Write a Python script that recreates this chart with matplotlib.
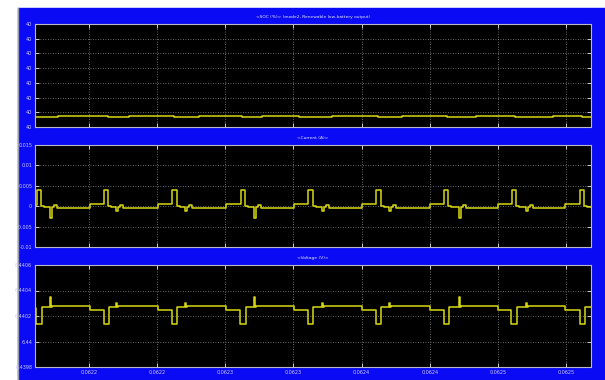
import matplotlib
matplotlib.use("Agg")
import matplotlib.pyplot as plt
import numpy as np
from matplotlib.patches import Rectangle
from matplotlib.lines import Line2D

# time axis: microseconds after 0.0621 s
T0 = 0.0621
XLIM_US = (10.4, 418.3)
XTICKS_US = [50, 100, 150, 200, 250, 300, 350, 400]
XTICK_LABELS = ["0.0622", "0.0622", "0.0623", "0.0623",
                "0.0624", "0.0624", "0.0625", "0.0625"]

# SOC (%) - practically flat, tiny steps
SOC_T = [10.4, 27.3, 64.0, 79.7, 112.4, 130.7, 162.3, 177.0, 204.1,
         228.1, 262.3, 279.5, 312.5, 334.0, 362.6, 390.3, 411.6, 418.3]
SOC_Y = [39.999768, 39.999776, 39.999768, 39.999776, 39.999768, 39.999776,
         39.999768, 39.999776, 39.999768, 39.999776, 39.999768, 39.999776,
         39.999768, 39.999776, 39.999768, 39.999776, 39.999768, 39.999768]
SOC_TICKS = [39.9997, 39.9998, 39.9999, 40.0, 40.0001, 40.0002, 40.0003, 40.0004]
SOC_LABELS = ["40"] * 8

# Current (A)
CUR_T = [10.4, 11.6, 14.8, 17.0, 21.4, 23.1, 24.3, 26.5, 50.9,
         61.0, 64.2, 66.4, 69.8, 71.5, 72.7, 74.9, 100.3,
         111.1, 114.3, 116.5, 120.5, 122.2, 123.4, 125.6, 150.4,
         161.2, 164.4, 166.6, 171.1, 172.8, 174.0, 176.2, 200.5,
         211.0, 214.2, 216.4, 220.8, 222.5, 223.7, 225.9, 250.3,
         260.9, 264.1, 266.3, 270.2, 271.9, 273.1, 275.3, 300.2,
         310.5, 313.7, 315.9, 321.5, 323.2, 324.4, 326.6, 349.8,
         360.2, 363.4, 365.6, 370.7, 372.4, 373.6, 375.8, 399.5,
         410.3, 413.5, 415.7, 418.3]
CUR_Y = [0.0003, 0.0039, 0.0001, -0.0003, -0.0028, -0.0003, 0.0002, -0.0004, 0.0005,
         0.0039, 0.0001, -0.0003, -0.0012, -0.0003, 0.0002, -0.0004, 0.0005,
         0.0039, 0.0001, -0.0003, -0.0012, -0.0003, 0.0002, -0.0004, 0.0005,
         0.0039, 0.0001, -0.0003, -0.0028, -0.0003, 0.0002, -0.0004, 0.0005,
         0.0039, 0.0001, -0.0003, -0.0012, -0.0003, 0.0002, -0.0004, 0.0005,
         0.0039, 0.0001, -0.0003, -0.0012, -0.0003, 0.0002, -0.0004, 0.0005,
         0.0039, 0.0001, -0.0003, -0.0028, -0.0003, 0.0002, -0.0004, 0.0005,
         0.0039, 0.0001, -0.0003, -0.0012, -0.0003, 0.0002, -0.0004, 0.0005,
         0.0039, 0.0001, -0.0003, -0.0003]
CUR_TICKS = [-0.01, -0.005, 0, 0.005, 0.01, 0.015]
CUR_LABELS = ["-0.01", "-0.005", "0", "0.005", "0.01", "0.015"]

# Voltage (V)
VOL_T = [10.4, 11.3, 15.3, 21.4, 22.1, 23.1, 50.9,
         60.7, 64.7, 69.8, 70.5, 71.5, 100.3,
         110.8, 114.8, 120.5, 121.2, 122.2, 150.4,
         160.9, 164.9, 171.1, 171.8, 172.8, 200.5,
         210.7, 214.7, 220.8, 221.5, 222.5, 250.3,
         260.6, 264.6, 270.2, 270.9, 271.9, 300.2,
         310.2, 314.2, 321.5, 322.2, 323.2, 349.8,
         359.9, 363.9, 370.7, 371.4, 372.4, 399.5,
         410.0, 414.0, 418.3]
VOL_Y = [6.44026, 6.44014, 6.44027, 6.44035, 6.44027, 6.44028, 6.44025,
         6.44014, 6.44027, 6.44030, 6.44027, 6.44028, 6.44025,
         6.44014, 6.44027, 6.44030, 6.44027, 6.44028, 6.44025,
         6.44014, 6.44027, 6.44035, 6.44027, 6.44028, 6.44025,
         6.44014, 6.44027, 6.44030, 6.44027, 6.44028, 6.44025,
         6.44014, 6.44027, 6.44030, 6.44027, 6.44028, 6.44025,
         6.44014, 6.44027, 6.44035, 6.44027, 6.44028, 6.44025,
         6.44014, 6.44027, 6.44030, 6.44027, 6.44028, 6.44025,
         6.44014, 6.44027, 6.44027]
VOL_TICKS = [6.4398, 6.44, 6.4402, 6.4404, 6.4406]
VOL_LABELS = ["6.4398", "6.44", "6.4402", "6.4404", "6.4406"]

TITLES = ["<SOC (%)> (mode2, Renewable low-battery output)",
          "<Current (A)>", "<Voltage (V)>"]

W, H = 605, 380
BLUE = "#0a0af5"
LINE = "#d8d812"
TXT = "#c8c8ff"

fig = plt.figure(figsize=(W / 100, H / 100), dpi=100)
fig.patch.set_facecolor("white")
fig.patches.append(Rectangle((18 / W, 0), 1 - 18 / W, 1 - 8 / H,
                             transform=fig.transFigure, color=BLUE, zorder=-5))
fig.lines.append(Line2D([18 / W, 18 / W], [0, 1 - 8 / H],
                        transform=fig.transFigure, color="#9a9ab0", lw=1.0,
                        zorder=-4))


def to_s(us):
    return T0 + np.asarray(us) * 1e-6


def make_axes(top_px, bottom_px):
    left, right = 35, 591
    ax = fig.add_axes([left / W, 1 - bottom_px / H, (right - left) / W,
                       (bottom_px - top_px) / H])
    ax.set_facecolor("black")
    for sp in ax.spines.values():
        sp.set_color("#b8b8c8")
        sp.set_linewidth(0.8)
    ax.tick_params(direction="in", length=3, width=0.7, color="#d0d0d0",
                   labelsize=3.5, labelcolor=TXT, top=True, right=True, pad=2)
    ax.grid(True, color="#8a8a8a", linestyle=(0, (1, 2)), linewidth=0.6)
    ax.set_xlim(to_s(XLIM_US[0]), to_s(XLIM_US[1]))
    ax.set_xticks(to_s(XTICKS_US))
    return ax


panels = [
    (24, 127, SOC_T, SOC_Y, SOC_TICKS, SOC_LABELS, (39.9997, 40.0004)),
    (145, 247, CUR_T, CUR_Y, CUR_TICKS, CUR_LABELS, (-0.01, 0.015)),
    (265, 367, VOL_T, VOL_Y, VOL_TICKS, VOL_LABELS, (6.4398, 6.4406)),
]

for i, (top, bot, t, y, yt, yl, ylim) in enumerate(panels):
    ax = make_axes(top, bot)
    ax.plot(to_s(t), y, color=LINE, lw=1.1, drawstyle="steps-post")
    ax.set_ylim(*ylim)
    ax.set_yticks(yt)
    ax.set_yticklabels(yl)
    if i == 2:
        ax.set_xticklabels(XTICK_LABELS)
    else:
        ax.set_xticklabels([])
    ax.set_title(TITLES[i], fontsize=3.2, color="#e8e8ff", pad=4.5)

fig.savefig("out.png", dpi=100, facecolor=fig.get_facecolor())
